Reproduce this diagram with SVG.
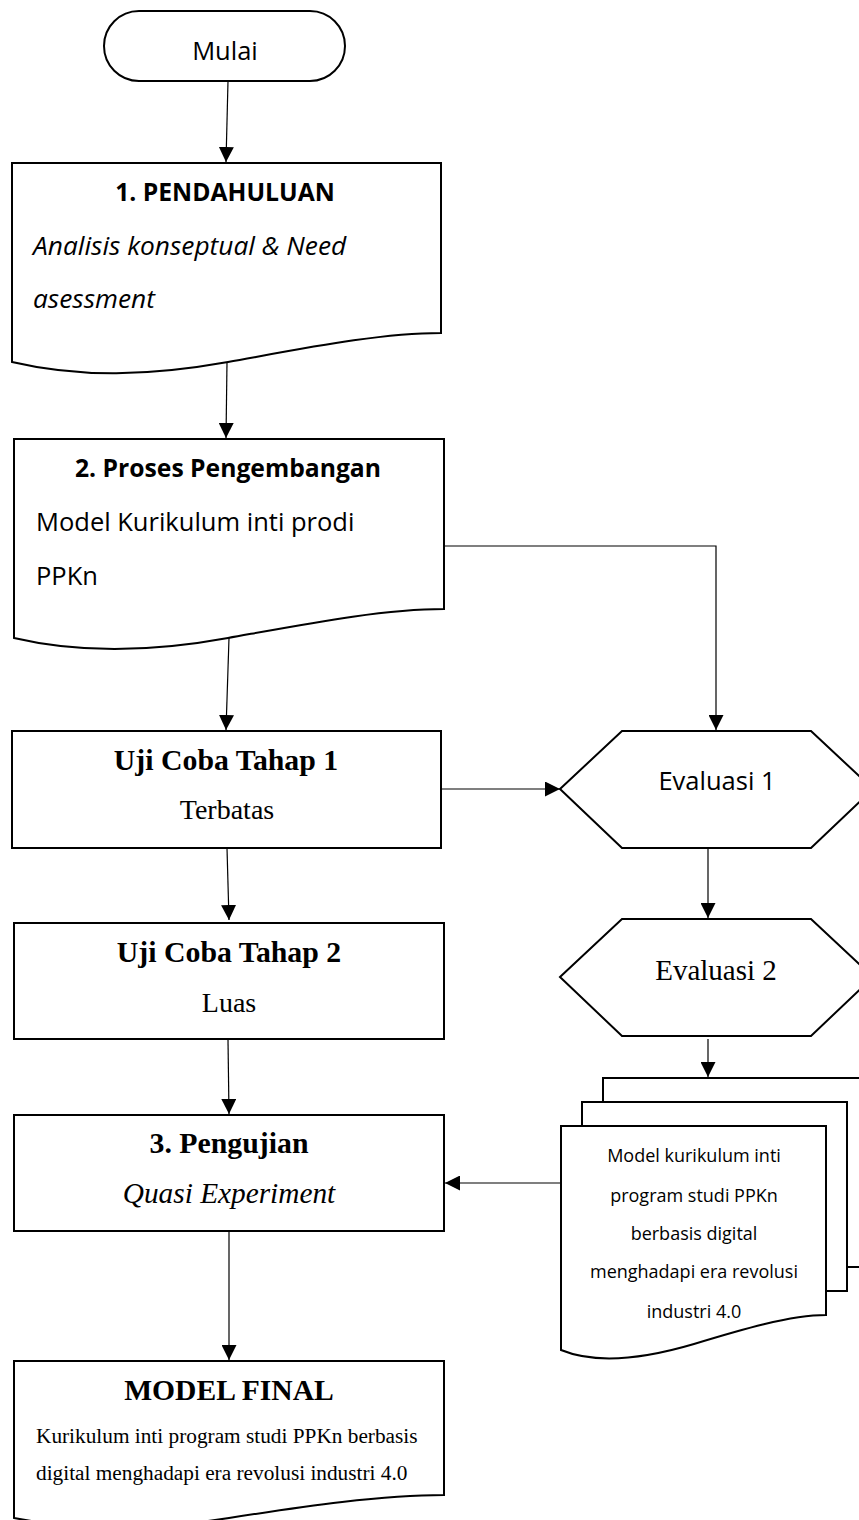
<svg xmlns="http://www.w3.org/2000/svg" width="859" height="1520" viewBox="0 0 859 1520">
  <style>
    .shape { fill: #ffffff; stroke: #000000; stroke-width: 2; stroke-linejoin: miter; }
    .conn { fill: none; stroke: #000000; stroke-width: 1.2; }
    .sans { font-family: "Open Sans", "Noto Sans", "DejaVu Sans", sans-serif; fill: #000; }
    .serif { font-family: "Liberation Serif", "Times New Roman", serif; fill: #000; }
    .c { text-anchor: middle; }
  </style>
  <defs>
    <marker id="ah" markerUnits="userSpaceOnUse" markerWidth="15" markerHeight="15" viewBox="0 0 15 15" refX="15" refY="7.5" orient="auto">
      <path d="M0,0 L15,7.5 L0,15 z" fill="#000"/>
    </marker>
  </defs>
  <rect width="859" height="1520" fill="#ffffff"/>

  <g id="connectors">
    <line class="conn" x1="228" y1="81" x2="226" y2="162" marker-end="url(#ah)"/>
    <line class="conn" x1="227" y1="362" x2="226" y2="438" marker-end="url(#ah)"/>
    <line class="conn" x1="229" y1="638" x2="226" y2="730" marker-end="url(#ah)"/>
    <polyline class="conn" points="444,546 716,546 716,730" marker-end="url(#ah)"/>
    <line class="conn" x1="441" y1="789" x2="560" y2="789" marker-end="url(#ah)"/>
    <line class="conn" x1="227" y1="848" x2="229" y2="920" marker-end="url(#ah)"/>
    <line class="conn" x1="708" y1="848" x2="708" y2="918" marker-end="url(#ah)"/>
    <line class="conn" x1="228" y1="1040" x2="229" y2="1114" marker-end="url(#ah)"/>
    <line class="conn" x1="708" y1="1039" x2="708" y2="1077" marker-end="url(#ah)"/>
    <line class="conn" x1="561" y1="1183" x2="445" y2="1183" marker-end="url(#ah)"/>
    <line class="conn" x1="229" y1="1231" x2="229" y2="1360" marker-end="url(#ah)"/>
  </g>

  <g id="mulai">
    <rect class="shape" x="104" y="11" width="241" height="70" rx="35" ry="35"/>
    <text class="sans c" x="225" y="60" font-size="25.5">Mulai</text>
  </g>

  <g id="pendahuluan">
    <path class="shape" d="M12,163 H441 V333 C380,333 306,348 228,362 C150,376 80,378 12,362 Z"/>
    <text class="sans c" x="225" y="201" font-size="24.7" font-weight="bold">1. PENDAHULUAN</text>
    <text class="sans" x="33" y="255" font-size="26.3" font-style="italic">Analisis konseptual &amp; Need</text>
    <text class="sans" x="33" y="308" font-size="26.3" font-style="italic">asessment</text>
  </g>

  <g id="pengembangan">
    <path class="shape" d="M14,439 H444 V609 C382,609 306,624 228,638 C152,652 82,654 14,638 Z"/>
    <text class="sans c" x="228" y="477" font-size="24.7" font-weight="bold">2. Proses Pengembangan</text>
    <text class="sans" x="36" y="531" font-size="25.5">Model Kurikulum inti prodi</text>
    <text class="sans" x="36" y="585" font-size="25.5">PPKn</text>
  </g>

  <g id="ujicoba1">
    <rect class="shape" x="12" y="731" width="429" height="117"/>
    <text class="serif c" x="226" y="770" font-size="29.8" font-weight="bold">Uji Coba Tahap 1</text>
    <text class="serif c" x="227" y="819" font-size="28">Terbatas</text>
  </g>

  <g id="ujicoba2">
    <rect class="shape" x="14" y="923" width="430" height="116"/>
    <text class="serif c" x="229" y="962" font-size="29.8" font-weight="bold">Uji Coba Tahap 2</text>
    <text class="serif c" x="229" y="1012" font-size="28">Luas</text>
  </g>

  <g id="pengujian">
    <rect class="shape" x="14" y="1115" width="430" height="116"/>
    <text class="serif c" x="229" y="1153" font-size="29.8" font-weight="bold">3. Pengujian</text>
    <text class="serif c" x="229" y="1203" font-size="29.3" font-style="italic">Quasi Experiment</text>
  </g>

  <g id="modelfinal">
    <path class="shape" d="M14,1361 H444 V1495 C382,1495 306,1506 229,1518 C152,1530 82,1531 14,1518 Z"/>
    <text class="serif c" x="229" y="1400" font-size="29.6" font-weight="bold">MODEL FINAL</text>
    <text class="serif" x="36" y="1443" font-size="21.3">Kurikulum inti program studi PPKn berbasis</text>
    <text class="serif" x="36" y="1480" font-size="21.3">digital menghadapi era revolusi industri 4.0</text>
  </g>

  <g id="evaluasi1">
    <polygon class="shape" points="560,789 622,731 811,731 873,789 811,848 622,848"/>
    <text class="sans c" x="717" y="790" font-size="25.5">Evaluasi 1</text>
  </g>

  <g id="evaluasi2">
    <polygon class="shape" points="560,977 622,919 811,919 873,977 811,1036 622,1036"/>
    <text class="serif c" x="716" y="980" font-size="29">Evaluasi 2</text>
  </g>

  <g id="model-dokumen">
    <path class="shape" d="M603,1078 H870 V1267 H603 Z"/>
    <path class="shape" d="M582,1102 H847 V1291 H582 Z"/>
    <path class="shape" d="M561,1126 H826 V1315 C790,1315 740,1330 694,1344 C640,1360 595,1364 561,1350 Z"/>
    <text class="sans c" x="694" y="1162" font-size="18">Model kurikulum inti</text>
    <text class="sans c" x="694" y="1202" font-size="18">program studi PPKn</text>
    <text class="sans c" x="694" y="1240" font-size="18">berbasis digital</text>
    <text class="sans c" x="694" y="1278" font-size="18">menghadapi era revolusi</text>
    <text class="sans c" x="694" y="1318" font-size="18">industri 4.0</text>
  </g>
</svg>
